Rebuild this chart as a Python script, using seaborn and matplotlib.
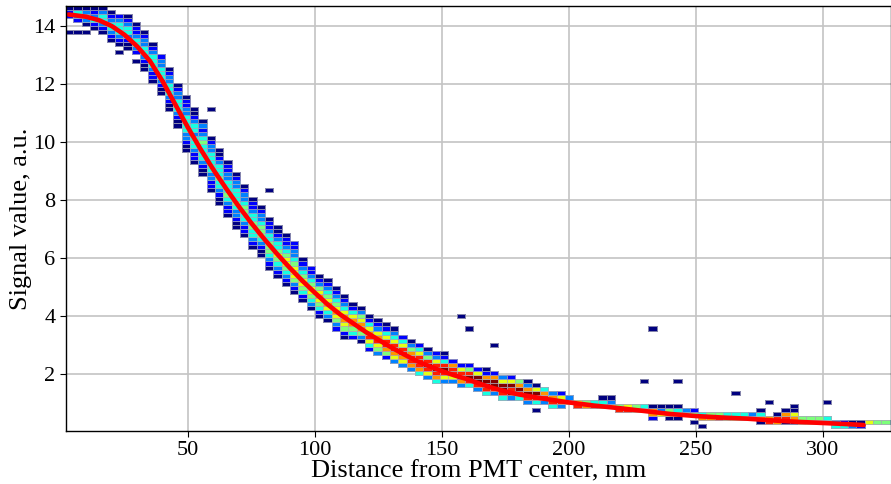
import numpy as np
import pandas as pd
import matplotlib
matplotlib.use("Agg")
import matplotlib.pyplot as plt
import seaborn as sns

# histogram binning (x: mm, y: a.u.)
x_edges = 1.6 + 3.28 * np.arange(101)
y_edges = 0.14 * np.arange(107)

# band of the 2D histogram: for every x-bin the signal of its lowest cell
# and the count levels of the cells going up (0 = empty cell)
band_bottom = [
    13.72, 13.72, 13.72, 13.72, 13.72, 13.44, 13.3, 13.1, 12.8, 12.5,
    12.0, 11.6, 11.0, 10.5, 9.72, 9.27, 8.82, 8.27, 7.82, 7.44,
    7.02, 6.69, 6.34, 6.02, 5.67, 5.32, 5.02, 4.69, 4.52, 4.23,
    3.99, 3.74, 3.51, 3.29, 3.23, 3.04, 2.85, 2.67, 2.5, 2.33,
    2.25, 2.1, 1.95, 1.83, 1.72, 1.62, 1.65, 1.55, 1.5, 1.4,
    1.3, 1.25, 1.15, 1.1, 1.05, 1.0, 0.95, 0.95, 0.9, 0.9,
    0.92, 0.88, 0.85, 0.82, 0.8, 0.77, 0.74, 0.72, 0.69, 0.66,
    0.45, 0.45, 0.42, 0.42, 0.5, 0.28, 0.14, 0.42, 0.42, 0.4,
    0.38, 0.36, 0.36, 0.22, 0.3, 0.3, 0.22, 0.22, 0.25, 0.25,
    0.22, 0.22, 0.2, 0.2, 0.2, 0.2, 0.24, 0.24, 0.24, 0.24,
]
band_levels = [
    "1000221", "1002341", "0013431", "0124321", "1234431",
    "12344321", "12344432", "112344321", "1023443221", "1123443321",
    "12234443210", "1123444332", "11234443321", "11234443321", "11233444433221",
    "12234443443211", "11234444543221", "12233444443321", "11234454443211", "12234544433221",
    "11233454443321", "1223445543321", "1234455443221", "1123455543321", "1234555443221",
    "1234565443211", "1234566543221", "1235666543321", "12456654321", "13456654322",
    "12456765321", "13467654321", "23567654321", "12567764321", "245776421",
    "135776531", "246876421", "356876321", "257886421", "367886431",
    "36788642", "37887531", "47888642", "36898531", "47898632",
    "36898421", "368872", "379862", "489852", "389962",
    "4899721", "389972", "489963", "398962", "48975",
    "389731", "48961", "3874", "4873", "3862",
    "73", "86", "75", "84", "741",
    "631", "85", "86", "75", "74",
    "1771", "0631", "1751", "1741", "53",
    "1052", "1074", "75", "85", "74",
    "64", "54", "63", "1741", "87",
    "781", "1871", "1761", "75", "65",
    "55", "54", "43", "42", "31",
    "21", "6", "5", "5", "4",
]

# isolated single-count cells away from the band
outlier_x = [9.6, 22.9, 55.7, 59.0, 82.0, 91.8, 157.4, 160.7, 170.5, 186.9,
             229.6, 232.8, 232.8, 242.7, 265.6, 278.8, 288.6, 301.7]
outlier_y = [13.8, 13.05, 10.55, 11.15, 8.35, 6.45, 3.93, 3.55, 3.08, 0.73,
             1.75, 3.52, 0.47, 1.75, 1.33, 1.03, 0.9, 1.03]

# fitted curve (red)
fit_x = [3, 10, 15, 20, 25, 30, 35, 40, 45, 50, 55, 60, 65, 70, 75, 80, 85,
         90, 95, 100, 105, 110, 115, 120, 125, 130, 135, 140, 145, 150, 155,
         160, 165, 170, 175, 180, 190, 200, 210, 220, 230, 240, 250, 260,
         270, 280, 290, 300, 310, 316]
fit_y = [14.4, 14.32, 14.2, 14.0, 13.7, 13.3, 12.8, 12.1, 11.3, 10.5, 9.75,
         9.05, 8.4, 7.78, 7.2, 6.66, 6.15, 5.67, 5.22, 4.8, 4.4, 4.05, 3.75,
         3.45, 3.18, 2.92, 2.68, 2.45, 2.27, 2.1, 1.95, 1.82, 1.66, 1.52,
         1.4, 1.3, 1.15, 1.02, 0.91, 0.82, 0.72, 0.62, 0.55, 0.5, 0.46, 0.4,
         0.35, 0.31, 0.27, 0.24]

bw = x_edges[1] - x_edges[0]
bh = y_edges[1] - y_edges[0]

# cell centres + counts for the histogram
xs, ys, ws = [], [], []
for i, (bottom, levels) in enumerate(zip(band_bottom, band_levels)):
    r0 = int(round(bottom / bh))
    for j, ch in enumerate(levels):
        if ch != "0":
            xs.append(x_edges[i] + bw / 2)
            ys.append((r0 + j + 0.5) * bh)
            ws.append(int(ch))
for ox, oy in zip(outlier_x, outlier_y):
    ci = int((ox - x_edges[0]) // bw)
    ri = int(oy // bh)
    xs.append(x_edges[ci] + bw / 2)
    ys.append((ri + 0.5) * bh)
    ws.append(1)

cells = pd.DataFrame({"dist": xs, "signal": ys, "count": ws})

sns.set_style("white")
plt.rcParams["font.family"] = ["Liberation Serif", "DejaVu Serif"]
plt.rcParams["text.color"] = "black"
plt.rcParams["axes.labelcolor"] = "black"

fig = plt.figure(figsize=(8.91, 4.84), dpi=100)
ax = fig.add_axes([0.0741, 0.1095, 0.9259, 0.878])

sns.histplot(data=cells, x="dist", y="signal", weights="count",
             bins=[x_edges, y_edges], cmap=matplotlib.colormaps["jet"],
             vmin=1, vmax=9, ax=ax)

# thin grey outline only around the filled cells
mesh = ax.collections[0]
mask = np.ma.getmaskarray(mesh.get_array()).ravel()
ec = np.tile([0.66, 0.66, 0.72, 0.8], (mask.size, 1))
ec[mask] = [0, 0, 0, 0]
mesh.set_edgecolor(ec)
mesh.set_linewidth(0.5)

sns.lineplot(x=fit_x, y=fit_y, color="red", lw=3.3, sort=False, ax=ax)

ax.set_xlim(2.0, 326.8)
ax.set_ylim(0.034, 14.69)
ax.set_xticks([50, 100, 150, 200, 250, 300])
ax.set_yticks([2, 4, 6, 8, 10, 12, 14])
ax.set_axisbelow(True)
ax.grid(True, color="#c4c4c4", lw=1.2)
for s in ax.spines.values():
    s.set_color("black")
    s.set_linewidth(1.0)
ax.tick_params(labelsize=16, direction="out", length=4, width=0.8,
               left=True, bottom=True, colors="black")
ax.set_xlabel("Distance from PMT center, mm", fontsize=19, labelpad=0,
              color="black")
ax.set_ylabel("Signal value, a.u.", fontsize=19, labelpad=1, color="black")

fig.savefig("out.png", dpi=100)
